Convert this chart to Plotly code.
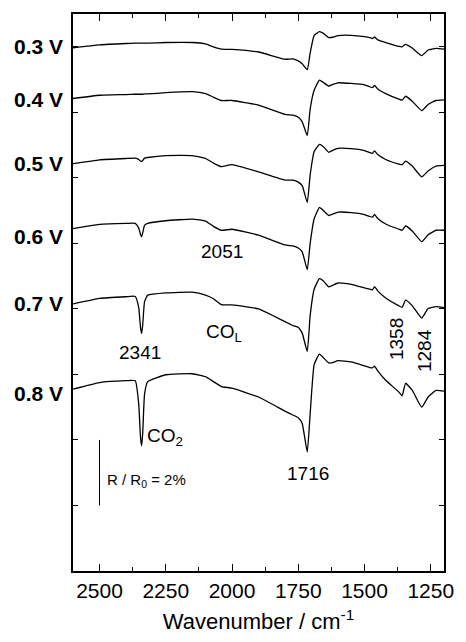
import plotly.graph_objects as go

# Wavenumber grid (cm^-1) shared by all spectra
wavenumber = [2600, 2500, 2400, 2365, 2352, 2345, 2341, 2337, 2330, 2318,
              2250, 2150, 2100, 2070, 2040, 2000, 1900, 1800, 1770, 1750,
              1735, 1716, 1705, 1690, 1670, 1655, 1635, 1620, 1600, 1550,
              1500, 1480, 1470, 1462, 1450, 1420, 1370, 1358, 1345, 1320,
              1284, 1260, 1230, 1200]

# Stacked reflectance spectra, R/R0 in % (offset per potential)
spec_03 = [15.97, 16.06, 16.10, 16.11, 16.11, 16.11, 16.11, 16.11, 16.11, 16.11,
           16.13, 16.13, 16.09, 16.00, 15.93, 15.92, 15.84, 15.62, 15.63, 15.57,
           15.48, 15.30, 15.81, 16.35, 16.46, 16.41, 16.28, 16.29, 16.34, 16.35,
           16.31, 16.28, 16.25, 16.30, 16.21, 16.13, 16.01, 16.00, 16.07, 15.96,
           15.73, 15.90, 15.95, 15.93]
spec_04 = [14.42, 14.52, 14.54, 14.55, 14.55, 14.55, 14.55, 14.55, 14.56, 14.56,
           14.60, 14.63, 14.57, 14.46, 14.36, 14.36, 14.22, 13.94, 13.91, 13.85,
           13.71, 13.29, 14.10, 14.67, 14.98, 14.91, 14.80, 14.85, 14.90, 14.88,
           14.84, 14.78, 14.75, 14.82, 14.71, 14.57, 14.40, 14.37, 14.49, 14.34,
           14.05, 14.24, 14.36, 14.38]
spec_05 = [12.43, 12.55, 12.59, 12.60, 12.56, 12.51, 12.50, 12.53, 12.60, 12.62,
           12.68, 12.68, 12.59, 12.45, 12.34, 12.40, 12.18, 11.93, 11.93, 11.87,
           11.76, 11.25, 12.09, 12.80, 13.02, 12.95, 12.78, 12.84, 12.90, 12.89,
           12.83, 12.77, 12.75, 12.82, 12.71, 12.56, 12.42, 12.40, 12.51, 12.36,
           12.03, 12.21, 12.36, 12.38]
spec_06 = [10.45, 10.58, 10.61, 10.61, 10.47, 10.26, 10.20, 10.32, 10.55, 10.61,
           10.69, 10.74, 10.68, 10.52, 10.40, 10.43, 10.25, 9.95, 9.92, 9.86,
           9.74, 9.20, 10.00, 10.75, 11.10, 11.00, 10.85, 10.89, 10.95, 10.94,
           10.88, 10.82, 10.80, 10.88, 10.76, 10.59, 10.43, 10.40, 10.53, 10.38,
           10.05, 10.26, 10.40, 10.40]
spec_07 = [8.15, 8.32, 8.37, 8.38, 8.04, 7.41, 7.25, 7.50, 8.22, 8.42,
           8.49, 8.51, 8.42, 8.31, 8.13, 8.12, 8.00, 7.61, 7.49, 7.44,
           7.26, 6.70, 7.80, 8.60, 8.92, 8.85, 8.67, 8.72, 8.79, 8.75,
           8.64, 8.60, 8.58, 8.68, 8.55, 8.33, 8.09, 8.05, 8.27, 8.10,
           7.72, 8.01, 8.07, 8.04]
spec_08 = [5.55, 5.75, 5.81, 5.81, 5.10, 4.05, 3.82, 4.20, 5.40, 5.78,
           5.99, 6.02, 5.93, 5.78, 5.63, 5.58, 5.31, 4.88, 4.76, 4.68,
           4.50, 3.63, 4.80, 6.30, 6.62, 6.51, 6.35, 6.36, 6.42, 6.38,
           6.26, 6.21, 6.20, 6.25, 6.11, 5.82, 5.46, 5.35, 5.73, 5.52,
           5.00, 5.31, 5.51, 5.49]

spectra = [spec_03, spec_04, spec_05, spec_06, spec_07, spec_08]
potential_labels = ["0.3 V", "0.4 V", "0.5 V", "0.6 V", "0.7 V", "0.8 V"]
label_levels = [16.0, 14.4, 12.45, 10.22, 8.15, 5.42]

# Band annotations: (text, wavenumber position, ordinate, rotation)
band_labels = [
    ("2051", 2037, 9.75, 0),
    ("2341", 2349, 6.68, 0),
    ("CO<sub>L</sub>", 2030, 7.25, 0),
    ("1358", 1381, 7.08, -90),
    ("1284", 1271, 6.72, -90),
    ("CO<sub>2</sub>", 2252, 4.1, 0),
    ("1716", 1712, 2.97, 0),
]

# Intensity scale bar
scale_bar_x = 2500
scale_bar_base = 2.0
scale_bar_size = 2.0
scale_bar_text = "R / R<sub>0</sub> = 2%"

x_ticks = [2500, 2250, 2000, 1750, 1500, 1250]

FONT = "Liberation Sans, Arial, Helvetica, sans-serif"

fig = go.Figure()
for ys in spectra:
    fig.add_trace(go.Scatter(
        x=wavenumber, y=ys, mode="lines",
        line=dict(color="black", width=1.3, shape="spline", smoothing=0.4),
        showlegend=False, hoverinfo="skip",
    ))

fig.add_trace(go.Scatter(
    x=[scale_bar_x, scale_bar_x],
    y=[scale_bar_base, scale_bar_base + scale_bar_size],
    mode="lines", line=dict(color="black", width=1),
    showlegend=False, hoverinfo="skip",
))

for text, lvl in zip(potential_labels, label_levels):
    fig.add_annotation(
        text=f"<b>{text}</b>", xref="paper", yref="y",
        x=-0.022, y=lvl, xanchor="right", yanchor="middle",
        showarrow=False, font=dict(family=FONT, size=21, color="black"),
    )

for text, wx, wy, rot in band_labels:
    fig.add_annotation(
        text=text, x=wx, y=wy, xref="x", yref="y",
        xanchor="center", yanchor="middle", textangle=rot,
        showarrow=False, font=dict(family=FONT, size=19, color="black"),
    )

fig.add_annotation(
    text=scale_bar_text, x=2478, y=2.76, xref="x", yref="y",
    xanchor="left", yanchor="middle", showarrow=False,
    font=dict(family=FONT, size=15, color="black"),
)

fig.update_layout(
    width=466, height=642,
    margin=dict(l=73, r=12, t=14, b=62),
    paper_bgcolor="white", plot_bgcolor="white",
    font=dict(family=FONT, color="black"),
)

fig.update_xaxes(
    range=[2600, 1200],
    tickvals=x_ticks, ticktext=[str(t) for t in x_ticks],
    ticks="inside", ticklen=7, tickwidth=1.2, tickcolor="black",
    minor=dict(ticks="inside", ticklen=4, dtick=125, tick0=0,
               tickcolor="black", tickwidth=1.2),
    showline=True, linecolor="black", linewidth=1.5, mirror="ticks",
    showgrid=False, zeroline=False,
    tickfont=dict(family=FONT, size=21, color="black"),
    title=dict(text="Wavenumber / cm<sup>-1</sup>",
               font=dict(family=FONT, size=22, color="black"), standoff=13),
)
fig.update_yaxes(
    range=[0, 17], tick0=0, dtick=2,
    ticks="inside", ticklen=5, tickwidth=1.2, tickcolor="black",
    showticklabels=False,
    showline=True, linecolor="black", linewidth=1.5, mirror="ticks",
    showgrid=False, zeroline=False,
)

fig.write_html("out.html")
